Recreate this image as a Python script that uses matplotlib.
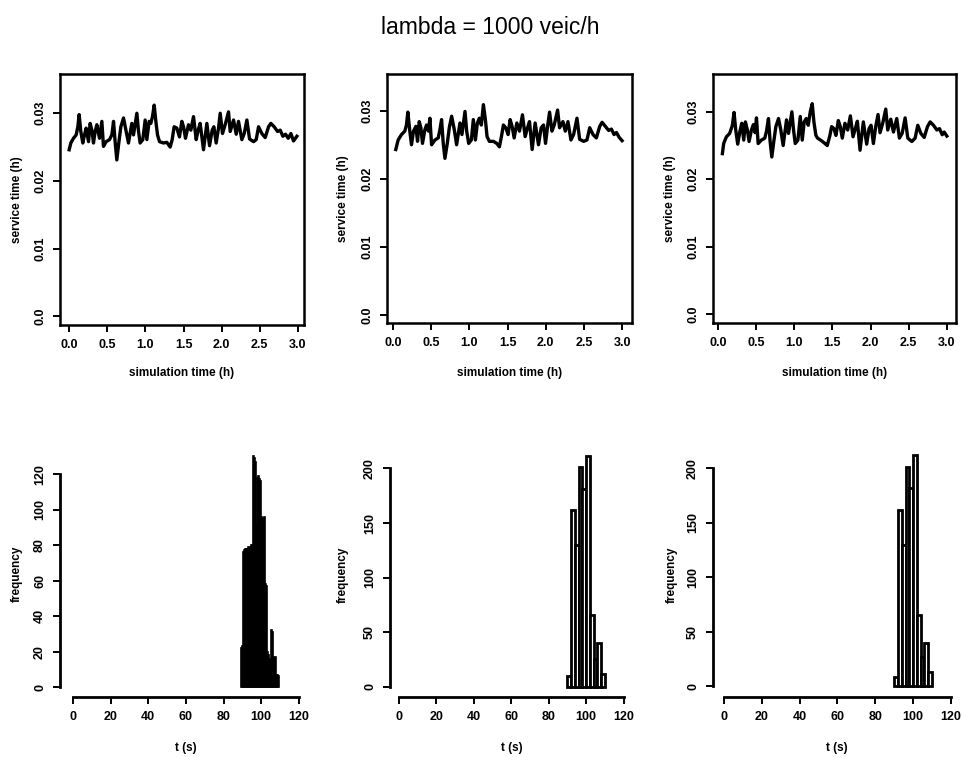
import numpy as np
import matplotlib
matplotlib.use("Agg")
import matplotlib.pyplot as plt

plt.rcParams['font.family'] = ['Liberation Sans', 'DejaVu Sans']

# --------------------------------------------------
# Data
# --------------------------------------------------
# top row: service time (h) vs simulation time (h)
t1 = [0.000, 0.022, 0.057, 0.092, 0.114, 0.131, 0.153, 0.179, 0.201, 0.223,
      0.254, 0.275, 0.302, 0.319, 0.341, 0.363, 0.398, 0.429, 0.450, 0.485,
      0.529, 0.560, 0.582, 0.603, 0.625, 0.651, 0.678, 0.713, 0.748, 0.778,
      0.822, 0.844, 0.888, 0.910, 0.931, 0.966, 0.997, 1.019, 1.049, 1.071,
      1.093, 1.115, 1.137, 1.159, 1.185, 1.237, 1.281, 1.325, 1.351, 1.377,
      1.412, 1.447, 1.478, 1.500, 1.526, 1.565, 1.596, 1.631, 1.666, 1.692,
      1.718, 1.762, 1.806, 1.841, 1.876, 1.898, 1.928, 1.959, 1.981, 2.011,
      2.046, 2.090, 2.112, 2.156, 2.191, 2.221, 2.265, 2.296, 2.331, 2.366,
      2.418, 2.453, 2.484, 2.527, 2.571, 2.615, 2.645, 2.689, 2.733, 2.768,
      2.803, 2.838, 2.873, 2.908, 2.943, 2.987]
s1 = [0.0246, 0.0256, 0.0263, 0.0268, 0.0280, 0.0298, 0.0273, 0.0256, 0.0268, 0.0278,
      0.0258, 0.0285, 0.0273, 0.0256, 0.0273, 0.0283, 0.0263, 0.0288, 0.0251, 0.0258,
      0.0261, 0.0268, 0.0288, 0.0258, 0.0231, 0.0256, 0.0280, 0.0293, 0.0273, 0.0256,
      0.0285, 0.0268, 0.0300, 0.0273, 0.0256, 0.0261, 0.0290, 0.0261, 0.0288, 0.0285,
      0.0295, 0.0312, 0.0288, 0.0268, 0.0258, 0.0256, 0.0257, 0.0250, 0.0261, 0.0280,
      0.0278, 0.0265, 0.0288, 0.0280, 0.0263, 0.0283, 0.0275, 0.0295, 0.0261, 0.0275,
      0.0285, 0.0246, 0.0285, 0.0252, 0.0275, 0.0280, 0.0256, 0.0278, 0.0300, 0.0270,
      0.0283, 0.0302, 0.0273, 0.0290, 0.0269, 0.0288, 0.0261, 0.0270, 0.0290, 0.0262,
      0.0258, 0.0261, 0.0280, 0.0270, 0.0264, 0.0280, 0.0285, 0.0280, 0.0273, 0.0275,
      0.0266, 0.0269, 0.0263, 0.0270, 0.0259, 0.0266]

t2 = [0.035, 0.066, 0.110, 0.153, 0.175, 0.193, 0.219, 0.241, 0.267, 0.298,
      0.320, 0.342, 0.364, 0.385, 0.416, 0.438, 0.464, 0.482, 0.504, 0.548,
      0.591, 0.613, 0.635, 0.657, 0.679, 0.710, 0.736, 0.767, 0.802, 0.832,
      0.876, 0.902, 0.942, 0.964, 0.990, 1.025, 1.051, 1.078, 1.104, 1.130,
      1.156, 1.183, 1.209, 1.231, 1.261, 1.314, 1.358, 1.393, 1.424, 1.445,
      1.476, 1.507, 1.533, 1.559, 1.586, 1.621, 1.656, 1.695, 1.730, 1.761,
      1.787, 1.822, 1.861, 1.905, 1.940, 1.971, 1.997, 2.024, 2.050, 2.081,
      2.111, 2.155, 2.181, 2.225, 2.256, 2.291, 2.330, 2.365, 2.409, 2.444,
      2.497, 2.540, 2.576, 2.619, 2.663, 2.707, 2.738, 2.781, 2.825, 2.860,
      2.895, 2.926, 2.961, 3.000]
s2 = [0.0243, 0.0257, 0.0265, 0.0270, 0.0279, 0.0298, 0.0270, 0.0250, 0.0270, 0.0277,
      0.0255, 0.0284, 0.0275, 0.0252, 0.0272, 0.0279, 0.0270, 0.0289, 0.0250, 0.0257,
      0.0260, 0.0272, 0.0287, 0.0252, 0.0230, 0.0252, 0.0275, 0.0292, 0.0272, 0.0250,
      0.0282, 0.0265, 0.0299, 0.0270, 0.0252, 0.0257, 0.0287, 0.0257, 0.0282, 0.0289,
      0.0279, 0.0309, 0.0287, 0.0262, 0.0255, 0.0255, 0.0252, 0.0247, 0.0265, 0.0279,
      0.0275, 0.0265, 0.0287, 0.0277, 0.0260, 0.0282, 0.0270, 0.0294, 0.0262, 0.0275,
      0.0284, 0.0243, 0.0282, 0.0250, 0.0275, 0.0279, 0.0252, 0.0277, 0.0298, 0.0270,
      0.0279, 0.0301, 0.0275, 0.0284, 0.0270, 0.0284, 0.0257, 0.0265, 0.0289, 0.0258,
      0.0255, 0.0257, 0.0275, 0.0265, 0.0260, 0.0277, 0.0283, 0.0277, 0.0271, 0.0273,
      0.0265, 0.0268, 0.0261, 0.0256]

t3 = [0.057, 0.074, 0.110, 0.153, 0.188, 0.210, 0.232, 0.258, 0.285, 0.311,
      0.337, 0.359, 0.385, 0.407, 0.438, 0.464, 0.486, 0.504, 0.526, 0.569,
      0.613, 0.635, 0.661, 0.683, 0.705, 0.731, 0.758, 0.793, 0.823, 0.854,
      0.898, 0.924, 0.968, 0.990, 1.012, 1.047, 1.078, 1.104, 1.130, 1.156,
      1.183, 1.209, 1.235, 1.257, 1.283, 1.305, 1.358, 1.402, 1.432, 1.467,
      1.489, 1.520, 1.546, 1.577, 1.603, 1.629, 1.664, 1.700, 1.735, 1.770,
      1.800, 1.827, 1.862, 1.905, 1.949, 1.980, 2.006, 2.037, 2.067, 2.098,
      2.124, 2.159, 2.199, 2.225, 2.265, 2.300, 2.343, 2.378, 2.414, 2.453,
      2.488, 2.541, 2.584, 2.619, 2.659, 2.703, 2.746, 2.781, 2.825, 2.869,
      2.904, 2.939, 2.965, 3.000]
s3 = [0.0238, 0.0253, 0.0263, 0.0268, 0.0280, 0.0299, 0.0273, 0.0252, 0.0270, 0.0283,
      0.0258, 0.0285, 0.0273, 0.0256, 0.0273, 0.0281, 0.0269, 0.0291, 0.0253, 0.0258,
      0.0261, 0.0271, 0.0290, 0.0256, 0.0233, 0.0256, 0.0278, 0.0290, 0.0273, 0.0250,
      0.0288, 0.0268, 0.0300, 0.0273, 0.0253, 0.0258, 0.0293, 0.0258, 0.0285, 0.0290,
      0.0280, 0.0300, 0.0312, 0.0285, 0.0265, 0.0261, 0.0257, 0.0253, 0.0250, 0.0265,
      0.0278, 0.0275, 0.0265, 0.0287, 0.0278, 0.0261, 0.0283, 0.0273, 0.0294, 0.0263,
      0.0275, 0.0286, 0.0243, 0.0285, 0.0252, 0.0275, 0.0280, 0.0253, 0.0278, 0.0296,
      0.0269, 0.0283, 0.0304, 0.0273, 0.0289, 0.0270, 0.0290, 0.0261, 0.0268, 0.0291,
      0.0261, 0.0256, 0.0261, 0.0280, 0.0268, 0.0262, 0.0278, 0.0285, 0.0280, 0.0273,
      0.0275, 0.0266, 0.0270, 0.0264]

# bottom row: histograms of t (s)
fine_width = 0.5
fine_start = 89.5
fine_counts = [22, 23, 76, 77, 78, 78, 78, 79, 78, 79,
               80, 80, 130, 129, 127, 92, 90, 118, 119, 117,
               116, 96, 95, 94, 96, 58, 57, 20, 18, 16,
               15, 32, 31, 31, 17, 16, 17, 7, 7, 6]

bin_left = [90, 92, 94, 96, 98, 100, 102, 104, 106, 108]
counts2 = [10, 162, 130, 201, 181, 211, 66, 26, 40, 12]
counts3 = [9, 162, 130, 201, 182, 212, 65, 27, 40, 13]

W, H = 964, 757


def rect(l, r, t, b):
    return [l / W, 1 - b / H, (r - l) / W, (b - t) / H]


def place_labels(ax, xl, yl, x_xy, y_xy):
    ax.set_xlabel(xl, fontsize=8.5, fontweight='bold')
    ax.set_ylabel(yl, fontsize=8.5, fontweight='bold')
    ax.xaxis.set_label_coords(x_xy[0] / W, 1 - x_xy[1] / H, transform=fig.transFigure)
    ax.yaxis.set_label_coords(y_xy[0] / W, 1 - y_xy[1] / H, transform=fig.transFigure)
    ax.xaxis.label.set_va('center')
    ax.yaxis.label.set_va('center')


def style_ticks(ax):
    ax.tick_params(direction='out', length=5, width=1.4, labelsize=9, pad=5)
    ax.tick_params(axis='y', labelrotation=90)
    for lab in ax.get_xticklabels() + ax.get_yticklabels():
        lab.set_fontweight('bold')
    for lab in ax.get_yticklabels():
        lab.set_va('center')


fig = plt.figure(figsize=(9.64, 7.57), dpi=100)
fig.text(490 / W, 1 - 27 / H, 'lambda = 1000 veic/h', ha='center', va='center', fontsize=16.5)

# --------------------------------------------------
# Top row: time series
# --------------------------------------------------
top = [
    (t1, s1, rect(60, 304, 74, 325), (-0.12, 3.08), (-0.0013, 0.0358), 17),
    (t2, s2, rect(387, 632, 74, 323), (-0.08, 3.13), (-0.0012, 0.0354), 343),
    (t3, s3, rect(713, 956, 74, 323), (-0.066, 3.12), (-0.0013, 0.0356), 670),
]
xt = [0.0, 0.5, 1.0, 1.5, 2.0, 2.5, 3.0]
yt = [0.0, 0.01, 0.02, 0.03]
for t, s, pos, xlim, ylim, ylab_x in top:
    ax = fig.add_axes(pos)
    ax.plot(t, s, color='black', lw=2.4, solid_joinstyle='round')
    ax.set_xlim(*xlim)
    ax.set_ylim(*ylim)
    ax.set_xticks(xt)
    ax.set_xticklabels([f'{v:.1f}' for v in xt])
    ax.set_yticks(yt)
    ax.set_yticklabels(['0.0', '0.01', '0.02', '0.03'])
    for sp in ax.spines.values():
        sp.set_linewidth(1.8)
    style_ticks(ax)
    l, b, w, h = pos
    cx = (l + w / 2) * W
    cy = (1 - (b + h / 2)) * H
    place_labels(ax, 'simulation time (h)', 'service time (h)', (cx, 373), (ylab_x, cy))

# --------------------------------------------------
# Bottom row: histograms
# --------------------------------------------------
bottom = [
    (rect(60, 312, 451, 697), (-6.9, 127), (-5.6, 133), [0, 20, 40, 60, 80, 100, 120], 17),
    (rect(390, 633, 452, 697), (-4.8, 125), (-9.2, 215), [0, 50, 100, 150, 200], 343),
    (rect(713, 960, 452, 697), (-5.8, 124.8), (-9.8, 215), [0, 50, 100, 150, 200], 672),
]
xt_b = [0, 20, 40, 60, 80, 100, 120]
for i, (pos, xlim, ylim, yticks, ylab_x) in enumerate(bottom):
    ax = fig.add_axes(pos)
    if i == 0:
        lefts = fine_start + fine_width * np.arange(len(fine_counts))
        ax.bar(lefts, fine_counts, width=fine_width, align='edge',
               facecolor='black', edgecolor='black', lw=1.2)
    else:
        cnt = counts2 if i == 1 else counts3
        ax.bar(bin_left, cnt, width=2, align='edge',
               facecolor='white', edgecolor='black', lw=2.0)
    ax.set_xlim(*xlim)
    ax.set_ylim(*ylim)
    ax.set_xticks(xt_b)
    ax.set_yticks(yticks)
    ax.spines['top'].set_visible(False)
    ax.spines['right'].set_visible(False)
    ax.spines['bottom'].set_bounds(0, 120)
    ax.spines['left'].set_bounds(yticks[0], yticks[-1])
    for k in ('bottom', 'left'):
        ax.spines[k].set_linewidth(2.0)
    style_ticks(ax)
    l, b, w, h = pos
    cx = (l + w / 2) * W
    cy = (1 - (b + h / 2)) * H
    place_labels(ax, 't (s)', 'frequency', (cx, 748), (ylab_x, cy))

fig.savefig('out.png', dpi=100)
